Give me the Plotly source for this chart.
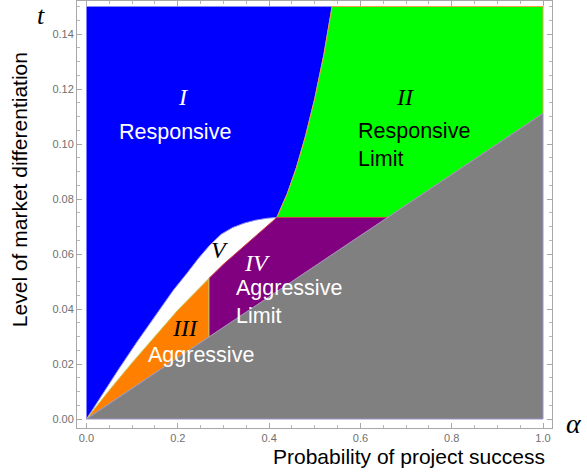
import numpy as np
import plotly.graph_objects as go

# Boundary curves of the strategy regions (alpha = probability of success, t = differentiation)
upper_alpha = [0.0, 0.03, 0.07, 0.11, 0.15, 0.19, 0.22, 0.245, 0.27, 0.295,
               0.32, 0.345, 0.37, 0.395, 0.417]
upper_t = [0.0, 0.0078, 0.0180, 0.0279, 0.0375, 0.0468, 0.0530, 0.0584, 0.0632, 0.0672,
           0.0696, 0.0712, 0.0723, 0.0730, 0.0733]

lower_alpha = [0.0, 0.05, 0.10, 0.15, 0.20, 0.268, 0.30, 0.34, 0.38, 0.417]
lower_t = [0.0, 0.0105, 0.0205, 0.0302, 0.0396, 0.0511, 0.0563, 0.0622, 0.0679, 0.0733]

green_alpha = [0.417, 0.44, 0.46, 0.48, 0.50, 0.52, 0.538]
green_t = [0.0733, 0.082, 0.0915, 0.103, 0.1165, 0.1325, 0.15]

t_max = 0.15
t_flat = 0.0733        # horizontal split between regions II and IV
alpha_split = 0.268    # vertical split between regions III and IV
gray_slope = 1 / 9     # infeasible region lies below t = alpha / 9

x_ticks = [0.0, 0.2, 0.4, 0.6, 0.8, 1.0]
y_ticks = [0.00, 0.02, 0.04, 0.06, 0.08, 0.10, 0.12, 0.14]

ua, ut = np.array(upper_alpha), np.array(upper_t)
la, lt = np.array(lower_alpha), np.array(lower_t)
ga, gt = np.array(green_alpha), np.array(green_t)
a_end = t_flat / gray_slope

fig = go.Figure()

def region(xs, ys, fill, edge):
    fig.add_trace(go.Scatter(x=list(xs), y=list(ys), mode="lines", fill="toself",
                             fillcolor=fill, line=dict(color=edge, width=1),
                             hoverinfo="skip", showlegend=False))

# I  Responsive
region(np.concatenate([ua, ga[1:], [0.0]]),
       np.concatenate([ut, gt[1:], [t_max]]), "#0000FF", "#8a8af0")
# II  Responsive Limit
region(np.concatenate([ga, [1.0, 1.0, a_end]]),
       np.concatenate([gt, [t_max, gray_slope, t_flat]]), "#00FF00", "#f0a040")
# IV  Aggressive Limit
m = la >= alpha_split
region(np.concatenate([[alpha_split], la[m], [a_end, alpha_split]]),
       np.concatenate([[alpha_split * gray_slope], lt[m], [t_flat, alpha_split * gray_slope]]),
       "#800080", "#d04040")
# III  Aggressive
m2 = la <= alpha_split
region(np.concatenate([la[m2], [alpha_split, 0.0]]),
       np.concatenate([lt[m2], [alpha_split * gray_slope, 0.0]]),
       "#FF8000", "#c8c860")
# infeasible
region([0.0, 1.0, 1.0, 0.0], [0.0, 0.0, gray_slope, 0.0], "#808080", "#9a93c9")

sans = "Liberation Sans, Arial, sans-serif"
serif = "Liberation Serif, Times New Roman, serif"

def label(x, y, text, color, size=21.5, family=sans, xanchor="center", align="center"):
    fig.add_annotation(x=x, y=y, xref="x", yref="y", text=text, showarrow=False,
                       font=dict(family=family, size=size, color=color),
                       xanchor=xanchor, yanchor="middle", align=align)

label(0.211, 0.117, "<i>I</i>", "white", 24, serif)
label(0.194, 0.1044, "Responsive", "white")
label(0.698, 0.117, "<i>II</i>", "black", 24, serif)
label(0.591, 0.0996, "Responsive<br>Limit", "black", xanchor="left", align="left")
label(0.292, 0.0615, "<i>V</i>", "black", 24, serif)
label(0.373, 0.0567, "<i>IV</i>", "white", 24, serif)
label(0.323, 0.0425, "Aggressive<br>Limit", "white", xanchor="left", align="left")
label(0.216, 0.0331, "<i>III</i>", "black", 24, serif)
label(0.251, 0.0233, "Aggressive", "white")

# axis titles
fig.add_annotation(x=0, y=0.557, xref="paper", yref="paper", xshift=-58,
                   text="Level of market differentiation", textangle=-90, showarrow=False,
                   font=dict(family=sans, size=21, color="black"),
                   xanchor="center", yanchor="middle")
fig.add_annotation(x=0.699, y=-0.066, xref="paper", yref="paper",
                   text="Probability of project success", showarrow=False,
                   font=dict(family=sans, size=21, color="black"),
                   xanchor="center", yanchor="middle")
fig.add_annotation(x=0, y=1, xref="paper", yref="paper", xshift=-36, yshift=-14,
                   text="<i>t</i>", showarrow=False,
                   font=dict(family=serif, size=26, color="black"),
                   xanchor="center", yanchor="middle")
fig.add_annotation(x=1, y=0, xref="paper", yref="paper", xshift=22, yshift=5,
                   text="<i>α</i>", showarrow=False,
                   font=dict(family=serif, size=28, color="black"),
                   xanchor="center", yanchor="middle")

axis_common = dict(showgrid=False, zeroline=False, showline=True, linecolor="#a8a8a8",
                   linewidth=1, mirror="ticks", ticks="inside", ticklen=5, tickcolor="#a8a8a8",
                   tickfont=dict(family=sans, size=11, color="#707070"))

fig.update_xaxes(range=[-0.0208, 1.0197], tickvals=x_ticks,
                 ticktext=[f"{v:.1f}" for v in x_ticks],
                 minor=dict(dtick=0.05, ticks="inside", ticklen=3, tickcolor="#b8b8b8"),
                 **axis_common)
fig.update_yaxes(range=[-0.00327, 0.152], tickvals=y_ticks,
                 ticktext=[f"{v:.2f}" for v in y_ticks],
                 minor=dict(dtick=0.005, ticks="inside", ticklen=3, tickcolor="#b8b8b8"),
                 **axis_common)

fig.update_layout(width=587, height=472, margin=dict(l=77, r=35, t=1, b=44),
                  plot_bgcolor="white", paper_bgcolor="white")

fig.write_html("out.html")
